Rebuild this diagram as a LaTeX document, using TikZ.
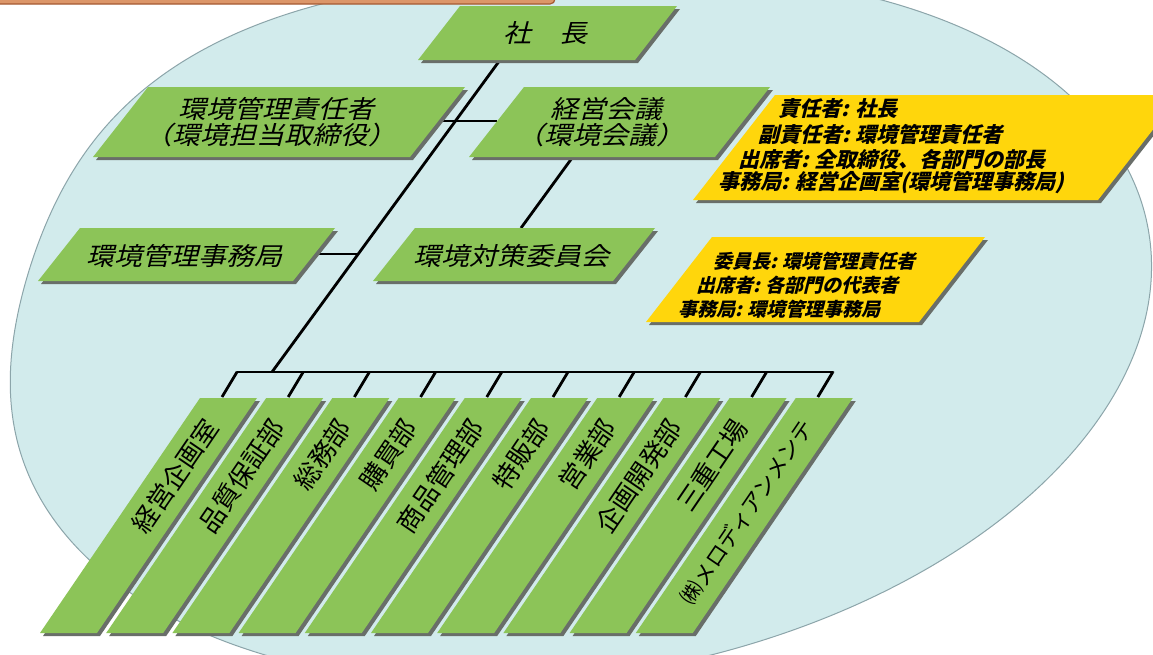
\documentclass[tikz,border=0pt]{standalone}
\usepackage{fontspec}
\newfontfamily\jp{Noto Sans CJK JP}
\definecolor{boxgreen}{RGB}{140,196,88}
\definecolor{boxyellow}{RGB}{255,214,12}
\definecolor{shadowc}{RGB}{105,110,105}
\definecolor{ellfill}{RGB}{210,235,236}
\definecolor{ellline}{RGB}{140,165,170}
\definecolor{barfill}{RGB}{220,150,105}
\definecolor{barline}{RGB}{165,90,50}
\tikzset{
  conn/.style={line width=2.8pt, black},
  gtext/.style={font=\jp\fontsize{25}{26}\selectfont, align=center, inner sep=0pt, text=black},
  ytext/.style={font=\jp\bfseries\fontsize{21}{25}\selectfont, anchor=west, inner sep=0pt, text=black},
  ytexts/.style={font=\jp\bfseries\fontsize{19}{23}\selectfont, anchor=west, inner sep=0pt, text=black},
  stext/.style={font=\jp\fontsize{26}{30}\selectfont, rotate=55.75, anchor=east, inner sep=0pt, text=black},
}
\newcommand\pbx[6]{%
  \fill[shadowc] (#1+3,#3+3) -- (#2+3,#3+3) -- (#2-#5+3,#4+3) -- (#1-#5+3,#4+3) -- cycle;
  \fill[#6] (#1,#3) -- (#2,#3) -- (#2-#5,#4) -- (#1-#5,#4) -- cycle;
}
% slanted text node: name, position, style, text, xscale
\newcommand\snode[5]{%
  \begin{scope}[shift={#2}, xslant=0.25, xscale=#5]
    \node[#3, transform shape] (#1) at (0,0) {#4};
  \end{scope}}
\begin{document}
\begin{tikzpicture}[x=1pt,y=-1pt]
\useasboundingbox (0,0) rectangle (1153,654);
\fill[white] (0,0) rectangle (1153,654);
% background oval
\begin{scope}
\clip (0,0) rectangle (1153,654);
\draw[fill=ellfill, draw=ellline, line width=1pt] plot[variable=\t, domain=0:360, samples=181, smooth]
  ({582 + (1+0.14*exp(-1*pow((\t-240)/28,2)))*(575*cos(\t)*0.985 + 345*sin(\t)*0.174)},
   {330 + (1+0.14*exp(-1*pow((\t-240)/28,2)))*(-575*cos(\t)*0.174 + 345*sin(\t)*0.985)}) -- cycle;
\end{scope}
% top bar
\fill[barfill, draw=barline, line width=1.2pt, rounded corners=5pt] (-10,-12) rectangle (555,4);

% coordinates for connectors
\coordinate (ceo-b) at (500,60);
\coordinate (bus-j) at (272,372);
\coordinate (mgr-r) at (438,121);
\coordinate (mtg-l) at (497,121);
\coordinate (mtg-b) at (572,158);
\coordinate (cmt-t) at (521,228);
\coordinate (sec-r) at (314,254);
\coordinate (sec-j) at (358,254);
\coordinate (bus-l) at (237,372);
\coordinate (bus-r) at (833,372);

% connectors
\draw[conn] (ceo-b) -- (bus-j);
\draw[conn] (mgr-r) -- (mtg-l);
\draw[conn] (mtg-b) -- (cmt-t);
\draw[conn] (sec-r) -- (sec-j);
\draw[conn, line cap=round] (bus-l) -- (bus-r);
\foreach \i in {0,...,9}{
  \pgfmathsetmacro\bx{237+66.2*\i}
  \coordinate (tk\i) at (\bx,372);
  \coordinate (tb\i) at (\bx-15,397);
  \draw[conn] (tk\i) -- (tb\i);
}

% boxes
\pbx{460}{677}{6}{60}{42}{boxgreen}
\pbx{148}{465}{87}{157}{55}{boxgreen}
\pbx{524}{770}{87}{157}{55}{boxgreen}
\pbx{775}{1180}{95}{200}{82}{boxyellow}
\pbx{80}{335}{228}{281}{42}{boxgreen}
\pbx{415}{655}{228}{281}{42}{boxgreen}
\pbx{712}{985}{237}{322}{66}{boxyellow}

\snode{ceo}{(548,33)}{gtext}{社　長}{1.12}
\snode{mgr}{(276,122)}{gtext}{環境管理責任者\\（環境担当取締役）}{1.12}
\snode{mtg}{(606,122)}{gtext}{経営会議\\（環境会議）}{1.12}
\snode{sec}{(187,256)}{gtext}{環境管理事務局}{1.12}
\snode{cmt}{(514,256)}{gtext}{環境対策委員会}{1.12}

\snode{y1a}{(780,109)}{ytext}{責任者: 社長}{1}
\snode{y1b}{(760,134)}{ytext}{副責任者: 環境管理責任者}{1}
\snode{y1c}{(740,159)}{ytext}{出席者: 全取締役、各部門の部長}{1}
\snode{y1d}{(720,183)}{ytext}{事務局: 経営企画室(環境管理事務局)}{1}

\snode{y2a}{(715,261)}{ytexts}{委員長: 環境管理責任者}{1}
\snode{y2b}{(698,285)}{ytexts}{出席者: 各部門の代表者}{1}
\snode{y2c}{(680,309)}{ytexts}{事務局: 環境管理事務局}{1}

% department stripes
\foreach \i/\t in {0/経営企画室,1/品質保証部,2/総務部,3/購買部,4/商品管理部,5/特販部,6/営業部,7/企画開発部,8/三重工場}{
  \pgfmathsetmacro\xl{200+66.2*\i}
  \pgfmathsetmacro\xr{\xl+57}
  \pbx{\xl}{\xr}{398}{633}{160}{boxgreen}
  \node[stext] (dep\i) at (\xl+12,422) {\t};
}
\pgfmathsetmacro\xl{200+66.2*9}
\pgfmathsetmacro\xr{\xl+57}
\pbx{\xl}{\xr}{398}{633}{160}{boxgreen}
\node[stext, font=\jp\fontsize{22}{26}\selectfont] (dep9) at (\xl+12,422) {㈱メロディアンメンテ};
\end{tikzpicture}
\end{document}
